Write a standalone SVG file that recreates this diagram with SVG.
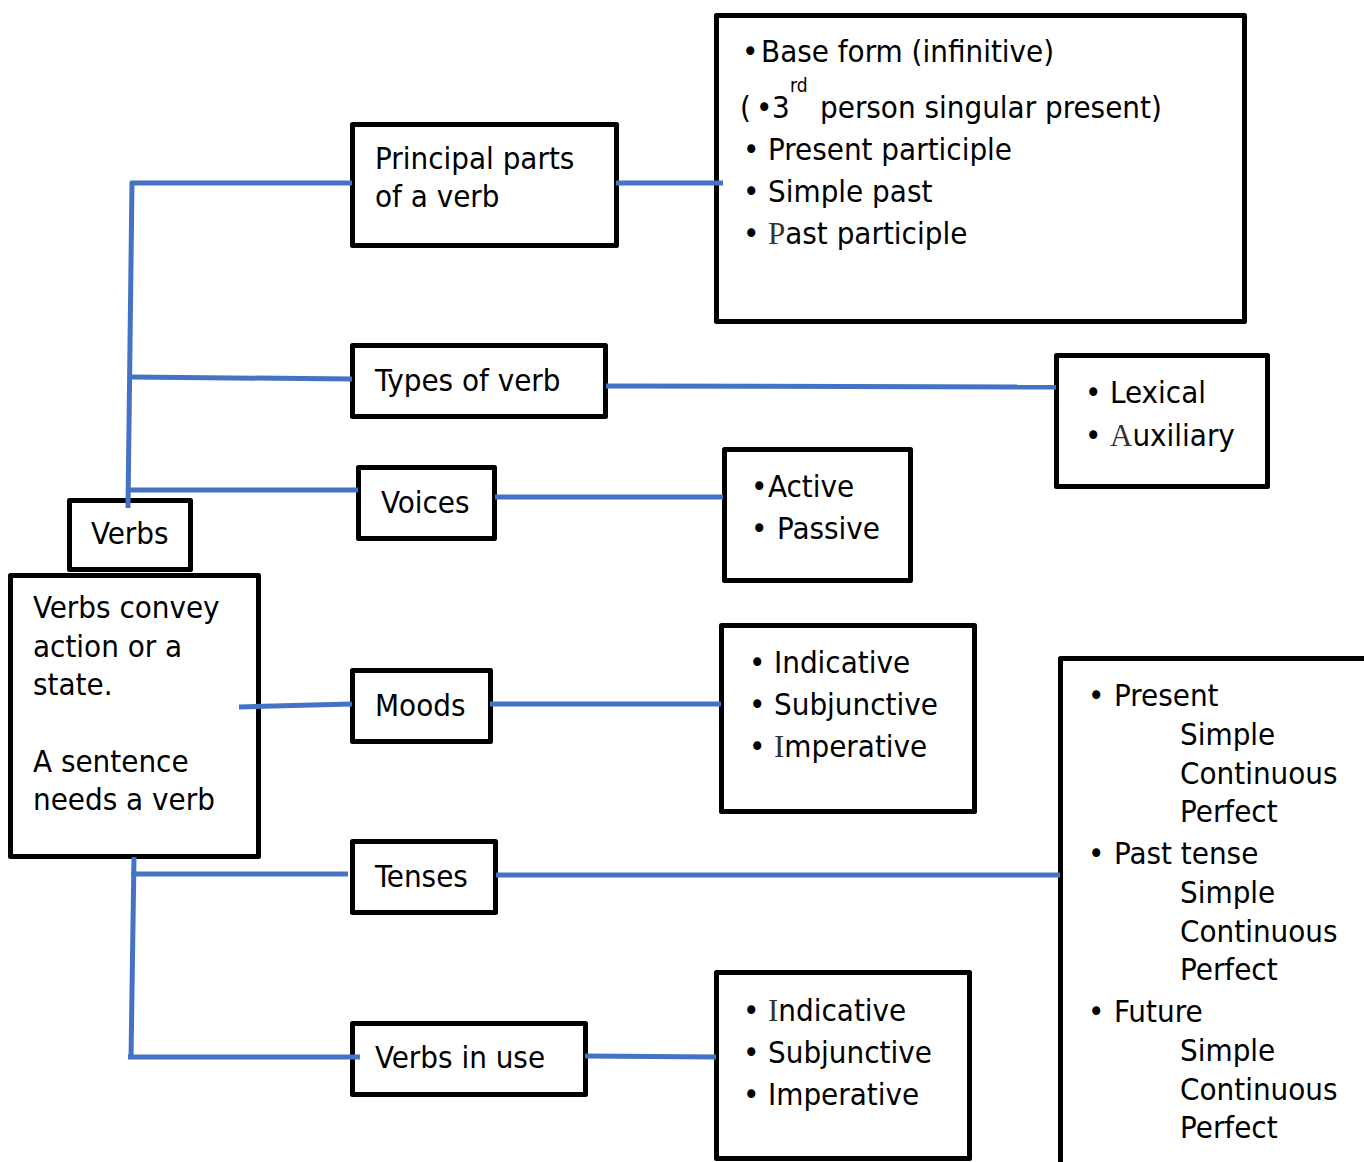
<svg xmlns="http://www.w3.org/2000/svg" width="1364" height="1162" viewBox="0 0 1364 1162">
  <style>
    .box { fill: #ffffff; stroke: #000000; stroke-width: 5; stroke-linejoin: round; }
    .link { fill: none; stroke: #4472C4; stroke-width: 5; stroke-linecap: butt; }
    text { font-family: "DejaVu Sans Condensed", "DejaVu Sans", sans-serif; font-stretch: condensed; font-size: 31px; fill: #000000; }
    .sup { font-size: 19px; }
    .odd { font-family: "Liberation Serif", "DejaVu Serif", serif; font-stretch: normal; fill: #333333; }
  </style>

  <!-- central topic -->
  <g id="verbs">
    <rect class="box" x="69.5" y="500.5" width="121" height="69"/>
    <text x="91" y="544">Verbs</text>
  </g>
  <g id="definition">
    <rect class="box" x="10.5" y="575.5" width="248" height="281"/>
    <text x="33" y="618">Verbs convey</text>
    <text x="33" y="657">action or a</text>
    <text x="33" y="695">state.</text>
    <text x="33" y="772">A sentence</text>
    <text x="33" y="810">needs a verb</text>
  </g>

  <!-- branch headings -->
  <g id="principal-parts">
    <rect class="box" x="352.5" y="124.5" width="264" height="121"/>
    <text x="375" y="169">Principal parts</text>
    <text x="375" y="207">of a verb</text>
  </g>
  <g id="types-of-verb">
    <rect class="box" x="352.5" y="345.5" width="253" height="71"/>
    <text x="375" y="391">Types of verb</text>
  </g>
  <g id="voices">
    <rect class="box" x="358.5" y="467.5" width="136" height="71"/>
    <text x="381" y="513">Voices</text>
  </g>
  <g id="moods">
    <rect class="box" x="352.5" y="670.5" width="138" height="71"/>
    <text x="375" y="716">Moods</text>
  </g>
  <g id="tenses">
    <rect class="box" x="352.5" y="841.5" width="143" height="71"/>
    <text x="375" y="887">Tenses</text>
  </g>
  <g id="verbs-in-use">
    <rect class="box" x="352.5" y="1023.5" width="233" height="71"/>
    <text x="375" y="1068">Verbs in use</text>
  </g>

  <!-- detail lists -->
  <g id="principal-parts-list">
    <rect class="box" x="716.5" y="15.5" width="528" height="306"/>
    <text x="742" y="62">•</text>
    <text x="761" y="62">Base form (infinitive)</text>
    <text x="740" y="118">(</text>
    <text x="756" y="118">•</text>
    <text x="772" y="118">3</text>
    <text class="sup" x="790" y="92">rd</text>
    <text x="820" y="118">person singular present)</text>
    <text x="743" y="160">•</text>
    <text x="768" y="160">Present participle</text>
    <text x="743" y="202">•</text>
    <text x="768" y="202">Simple past</text>
    <text x="743" y="244">•</text>
    <text x="768" y="244"><tspan class="odd">P</tspan>ast participle</text>
  </g>
  <g id="types-list">
    <rect class="box" x="1056.5" y="355.5" width="211" height="131"/>
    <text x="1085" y="403">•</text>
    <text x="1110" y="403">Lexical</text>
    <text x="1085" y="446">•</text>
    <text x="1110" y="446"><tspan class="odd">A</tspan>uxiliary</text>
  </g>
  <g id="voices-list">
    <rect class="box" x="724.5" y="449.5" width="186" height="131"/>
    <text x="751" y="497">•</text>
    <text x="768" y="497">Active</text>
    <text x="751" y="539">•</text>
    <text x="777" y="539">Passive</text>
  </g>
  <g id="moods-list">
    <rect class="box" x="721.5" y="625.5" width="253" height="186"/>
    <text x="749" y="673">•</text>
    <text x="774" y="673">Indicative</text>
    <text x="749" y="715">•</text>
    <text x="774" y="715">Subjunctive</text>
    <text x="749" y="757">•</text>
    <text x="774" y="757"><tspan class="odd">I</tspan>mperative</text>
  </g>
  <g id="tenses-list">
    <rect class="box" x="1060.5" y="658.5" width="400" height="600"/>
    <text x="1088" y="706">•</text>
    <text x="1114" y="706">Present</text>
    <text x="1180" y="745">Simple</text>
    <text x="1180" y="784">Continuous</text>
    <text x="1180" y="822">Perfect</text>
    <text x="1088" y="864">•</text>
    <text x="1114" y="864">Past tense</text>
    <text x="1180" y="903">Simple</text>
    <text x="1180" y="942">Continuous</text>
    <text x="1180" y="980">Perfect</text>
    <text x="1088" y="1022">•</text>
    <text x="1114" y="1022">Future</text>
    <text x="1180" y="1061">Simple</text>
    <text x="1180" y="1100">Continuous</text>
    <text x="1180" y="1138">Perfect</text>
  </g>
  <g id="usage-list">
    <rect class="box" x="716.5" y="972.5" width="253" height="186"/>
    <text x="743" y="1021">•</text>
    <text x="768" y="1021"><tspan class="odd">I</tspan>ndicative</text>
    <text x="743" y="1063">•</text>
    <text x="768" y="1063">Subjunctive</text>
    <text x="743" y="1105">•</text>
    <text x="768" y="1105">Imperative</text>
  </g>

  <!-- connectors -->
  <g id="connectors">
    <path class="link" d="M132 182 L128 508"/>
    <path class="link" d="M130 183 L352 183"/>
    <path class="link" d="M130 377 L352 379"/>
    <path class="link" d="M128 490 L358 490"/>
    <path class="link" d="M616 183 L723 183"/>
    <path class="link" d="M606 386 L1056 387"/>
    <path class="link" d="M495 497 L723 497"/>
    <path class="link" d="M239 707 L352 704"/>
    <path class="link" d="M490 704 L721 704"/>
    <path class="link" d="M134 857 L131 1059"/>
    <path class="link" d="M131 874 L348 874"/>
    <path class="link" d="M496 875 L1060 875"/>
    <path class="link" d="M128 1057 L360 1057"/>
    <path class="link" d="M585 1056 L716 1057"/>
  </g>
</svg>
